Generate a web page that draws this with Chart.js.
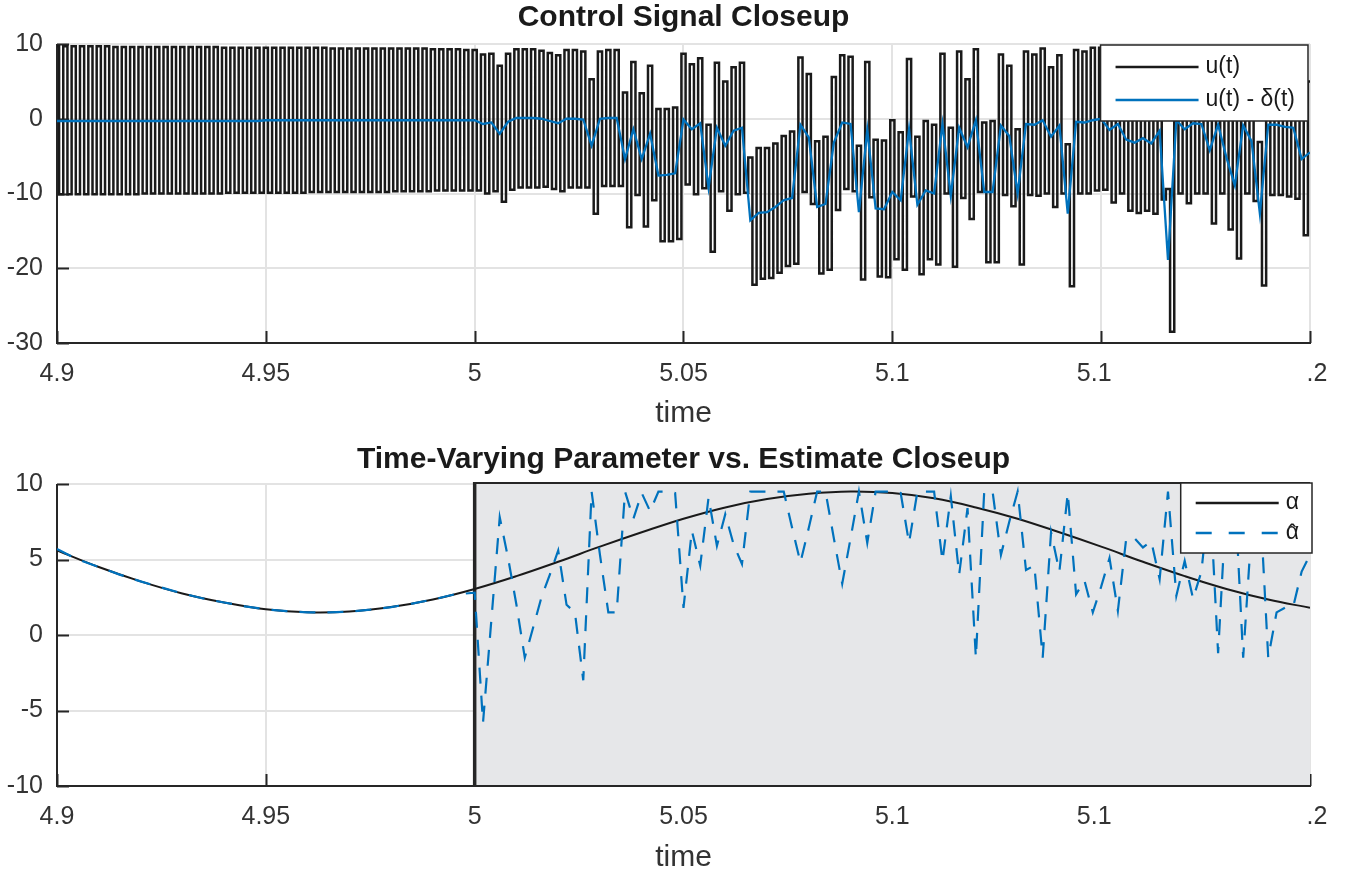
<!DOCTYPE html>
<html>
<head>
<meta charset="utf-8">
<script src="https://cdn.jsdelivr.net/npm/chart.js@4.4.1/dist/chart.umd.min.js"></script>
<style>
  body { margin: 0; background: #fff; }
  .panel { position: absolute; left: 0; width: 1348px; }
</style>
</head>
<body>
<div class="panel" style="top:0;height:440px"><canvas id="topChart" width="1348" height="440"></canvas></div>
<div class="panel" style="top:440px;height:437px"><canvas id="bottomChart" width="1348" height="437"></canvas></div>
<script>
// ---- data ----
const xTicks = [4.9, 4.95, 5, 5.05, 5.1, 5.15, 5.2];
const xTickLabels = ['4.9', '4.95', '5', '5.05', '5.1', '5.1', '.2'];
const topYTicks = [-30, -20, -10, 0, 10];
const bottomYTicks = [-10, -5, 0, 5, 10];
const topTitle = 'Control Signal Closeup';
const bottomTitle = 'Time-Varying Parameter vs. Estimate Closeup';
const xTitle = 'time';

// switching period of the control signal, one high/low pair per period
const periodStart = 4.9;
const period = 0.002;

// u(t): value during the high half of each period
const uHigh = [
  9.7, 9.7, 9.7, 9.7, 9.7, 9.7, 9.7, 9.6, 9.6, 9.6,
  9.6, 9.6, 9.6, 9.6, 9.6, 9.6, 9.6, 9.6, 9.6, 9.6,
  9.5, 9.5, 9.5, 9.5, 9.5, 9.5, 9.5, 9.5, 9.5, 9.5,
  9.5, 9.5, 9.5, 9.4, 9.4, 9.4, 9.4, 9.4, 9.4, 9.4,
  9.4, 9.4, 9.4, 9.4, 9.4, 9.3, 9.3, 9.3, 9.3, 9.2,
  9.2, 8.6, 8.7, 7.1, 8.7, 9.3, 9.3, 9.3, 9.1, 8.8,
  8.5, 9.2, 9.2, 9.0, 5.3, 9.0, 9.2, 9.2, 3.5, 7.6,
  3.4, 7.1, 1.3, 1.3, 1.5, 8.7, 7.3, 8.1, -0.8, 7.5,
  5.0, 6.9, 7.5, -5.2, -3.9, -3.9, -3.3, -2.3, -1.7, 8.2,
  6.0, -3.0, -2.4, 5.6, 8.5, 8.3, -3.6, 7.6, -2.8, -2.9,
  -0.2, -1.8, 8.0, -2.4, -0.3, -0.8, 8.7, -1.2, 9.0, 5.3,
  9.3, -0.5, -0.3, 8.6, 7.1, -1.4, 9.0, 8.6, 9.4, 6.9,
  8.5, -3.4, 9.2, 9.0, 9.5, 9.5, 8.2, 8.6, 6.7, 6.2,
  7.1, 6.1, 7.6, -9.4, 9.5, 8.5, 8.8, 8.6, 5.6, 8.4,
  4.4, 0.9, 8.2, 5.0, -3.1, 8.6, 8.6, 8.2, 8.3, 4.8,
  5.0
];
// u(t): value during the low half of each period
const uLow = [
  -10.1, -10.1, -10.1, -10.1, -10.1, -10.1, -10.1, -10.1, -10.1, -10.1,
  -10.0, -10.0, -10.0, -10.0, -10.0, -10.0, -10.0, -10.0, -10.0, -10.0,
  -9.9, -9.9, -9.9, -9.9, -9.9, -9.9, -9.9, -9.9, -9.9, -9.9,
  -9.8, -9.8, -9.8, -9.8, -9.8, -9.8, -9.8, -9.8, -9.8, -9.8,
  -9.7, -9.7, -9.7, -9.7, -9.7, -9.6, -9.6, -9.6, -9.6, -9.6,
  -9.6, -10.0, -9.7, -11.1, -9.5, -9.2, -9.2, -9.2, -9.1, -9.4,
  -9.7, -9.2, -9.2, -9.2, -12.7, -9.0, -9.0, -9.0, -14.5, -10.2,
  -14.4, -10.9, -16.4, -16.4, -16.1, -8.8, -10.1, -9.3, -17.8, -9.7,
  -12.3, -10.1, -9.9, -22.2, -21.4, -21.3, -20.6, -19.7, -19.4, -9.8,
  -11.4, -20.7, -20.2, -12.2, -9.4, -9.7, -21.5, -10.5, -21.1, -21.2,
  -18.8, -20.2, -10.4, -20.8, -18.8, -19.5, -10.0, -19.8, -10.6, -13.4,
  -9.8, -19.2, -19.2, -10.2, -11.7, -19.5, -10.2, -10.3, -10.0, -11.8,
  -10.0, -22.4, -10.0, -10.0, -9.6, -9.5, -11.2, -10.0, -12.3, -12.6,
  -12.3, -12.7, -10.8, -28.5, -10.0, -11.3, -10.0, -10.0, -14.0, -10.0,
  -14.8, -18.7, -10.0, -11.0, -22.3, -10.2, -10.2, -10.4, -10.7, -15.6,
  -14.0
];
// u(t) - delta(t), one sample per period
const uMinusDelta = [
  -0.3, -0.3, -0.3, -0.3, -0.3, -0.3, -0.3, -0.3, -0.3, -0.3,
  -0.3, -0.3, -0.3, -0.3, -0.3, -0.3, -0.3, -0.3, -0.3, -0.3,
  -0.3, -0.3, -0.3, -0.3, -0.3, -0.2, -0.2, -0.2, -0.2, -0.2,
  -0.2, -0.2, -0.2, -0.2, -0.2, -0.2, -0.2, -0.2, -0.2, -0.2,
  -0.2, -0.2, -0.2, -0.2, -0.2, -0.2, -0.2, -0.2, -0.2, -0.2,
  -0.2, -0.7, -0.5, -2.0, -0.4, 0.1, 0.1, 0.1, 0.0, -0.3,
  -0.6, 0.0, 0.0, -0.1, -3.6, 0.0, 0.1, 0.1, -5.4, -1.4,
  -5.4, -2.0, -7.6, -7.5, -7.3, -0.1, -1.4, -0.6, -9.2, -1.2,
  -3.6, -1.6, -1.2, -13.6, -12.6, -12.5, -11.8, -10.9, -10.6, -0.8,
  -2.5, -11.8, -11.4, -3.2, -0.5, -0.7, -12.5, -1.5, -12.0, -12.1,
  -9.8, -10.9, -1.4, -11.5, -9.6, -10.0, -0.7, -10.3, -1.2, -3.8,
  -0.2, -9.8, -9.8, -0.9, -2.3, -10.0, -0.7, -0.8, -0.2, -2.4,
  -0.9, -12.7, -0.4, -0.5, -0.2, 0.0, -1.5, -0.7, -2.8, -3.2,
  -2.6, -3.3, -1.6, -18.9, -0.2, -1.4, -0.6, -0.7, -4.2, -0.8,
  -5.2, -8.9, -0.9, -3.0, -12.7, -0.8, -0.8, -1.1, -1.2, -5.4,
  -4.5
];

// alpha (true parameter)
const alphaTimes = [4.9, 4.91, 4.92, 4.93, 4.94, 4.95, 4.96, 4.97, 4.98, 4.99,
  5.0, 5.01, 5.02, 5.03, 5.04, 5.05, 5.06, 5.07, 5.08, 5.09,
  5.1, 5.11, 5.12, 5.13, 5.14, 5.15, 5.16, 5.17, 5.18, 5.19, 5.2];
const alphaValues = [5.6, 4.5, 3.55, 2.75, 2.15, 1.7, 1.5, 1.55, 1.85, 2.35,
  3.05, 3.9, 4.85, 5.85, 6.8, 7.7, 8.45, 9.0, 9.35, 9.5,
  9.4, 9.05, 8.45, 7.7, 6.8, 5.85, 4.85, 3.9, 3.05, 2.35, 1.8];

// alpha-hat (estimate): smooth part before 5.0
const alphaHatEarlyTimes = [4.9, 4.905, 4.91, 4.915, 4.92, 4.925, 4.93, 4.935, 4.94, 4.945,
  4.95, 4.955, 4.96, 4.965, 4.97, 4.975, 4.98, 4.985, 4.99, 4.995];
const alphaHatEarly = [5.7, 5.0, 4.5, 4.0, 3.55, 3.15, 2.75, 2.42, 2.15, 1.9,
  1.7, 1.58, 1.5, 1.5, 1.55, 1.68, 1.85, 2.08, 2.35, 2.68];
// alpha-hat after 5.0, one sample per period
const alphaHatStart = 5.0;
const alphaHatLate = [
  2.8, -5.8, 1.0, 7.8, 5.1, 2.0, -1.5, 0.5, 2.5, 4.0,
  5.6, 2.0, 1.5, -3.0, 9.5, 5.3, 1.5, 1.5, 9.5, 7.7,
  9.4, 8.2, 9.5, 9.5, 9.4, 1.8, 6.9, 4.6, 9.1, 5.9,
  8.0, 6.0, 4.7, 9.5, 9.5, 9.5, 9.5, 9.5, 7.1, 4.8,
  7.1, 9.5, 9.5, 6.4, 3.4, 6.4, 9.5, 6.1, 9.5, 9.5,
  9.5, 9.4, 6.1, 9.5, 9.5, 9.5, 4.9, 9.2, 4.0, 8.4,
  -1.5, 9.5, 9.5, 5.3, 7.5, 9.5, 4.3, 4.6, -1.5, 6.8,
  4.2, 9.4, 2.7, 3.6, 1.5, 3.2, 5.1, 1.6, 6.4, 6.4,
  5.8, 6.2, 3.7, 9.5, 2.6, 4.9, 2.4, 4.2, 9.5, -1.2,
  9.0, 9.5, -1.5, 7.0, 9.0, -1.5, 1.5, 1.8, 1.9, 4.2,
  5.3
];
const estimateWindow = [5.0, 5.2];

// ---- styling ----
const FONT = "'Liberation Sans', Arial, Helvetica, sans-serif";
const GRID = '#e3e3e3';
const AXIS = '#262626';
const TICK_TEXT = '#333333';
const BLACK = '#1a1a1a';
const BLUE = '#0072bd';

// ---- build series ----
const uPoints = [];
uHigh.forEach((hi, k) => {
  const t = periodStart + k * period;
  uPoints.push({ x: t - period / 4, y: hi });
  uPoints.push({ x: t + period / 4, y: uLow[k] });
});
const uDeltaPoints = uMinusDelta.map((v, k) => ({ x: periodStart + k * period, y: v }));
const alphaPoints = alphaValues.map((v, i) => ({ x: alphaTimes[i], y: v }));
const alphaHatPoints = alphaHatEarly.map((v, i) => ({ x: alphaHatEarlyTimes[i], y: v }))
  .concat(alphaHatLate.map((v, j) => ({ x: alphaHatStart + j * period, y: v })));

// legend text, drawing a combining circumflex by hand
function drawLabel(ctx, text, x, y) {
  const hat = text.indexOf('\u0302');
  const base = text.replace('\u0302', '');
  ctx.textAlign = 'left';
  ctx.fillText(base, x, y);
  if (hat > 0) {
    const before = ctx.measureText(base.slice(0, hat - 1)).width;
    const w = ctx.measureText(base.charAt(hat - 1)).width;
    ctx.textAlign = 'center';
    ctx.fillText('\u02c6', x + before + w / 2, y + 2);
  }
  return ctx.measureText(base).width;
}

// ---- MATLAB-like axes decorations ----
const matlabAxes = {
  id: 'matlabAxes',
  beforeDatasetsDraw(chart, args, opts) {
    const { ctx, chartArea: a, scales: { x, y } } = chart;
    ctx.save();
    ctx.strokeStyle = AXIS;
    ctx.lineWidth = 2;
    ctx.beginPath();
    xTicks.forEach(v => {
      const px = Math.round(x.getPixelForValue(v)) + 0.5;
      ctx.moveTo(px, a.bottom); ctx.lineTo(px, a.bottom - 12);
    });
    y.ticks.forEach(t => {
      const py = Math.round(y.getPixelForValue(t.value)) + 0.5;
      ctx.moveTo(a.left, py); ctx.lineTo(a.left + 12, py);
    });
    ctx.stroke();

    if (opts.shade) {
      const x0 = x.getPixelForValue(opts.shade[0]);
      const x1 = x.getPixelForValue(opts.shade[1]);
      ctx.fillStyle = '#e6e7e9';
      ctx.fillRect(x0, a.top, x1 - x0, a.bottom - a.top);
      ctx.beginPath();
      ctx.lineWidth = 2;
      ctx.moveTo(x1, a.top - 1); ctx.lineTo(x0, a.top - 1);
      ctx.stroke();
      ctx.beginPath();
      ctx.lineWidth = 3.5;
      ctx.moveTo(x0, a.top - 2); ctx.lineTo(x0, a.bottom);
      ctx.stroke();
    }

    ctx.lineWidth = 2;
    ctx.beginPath();
    ctx.moveTo(a.left, a.top);
    ctx.lineTo(a.left, a.bottom);
    ctx.lineTo(a.right + 1, a.bottom);
    ctx.stroke();
    ctx.restore();
  },
  afterDraw(chart, args, opts) {
    const { ctx, chartArea: a, scales: { x } } = chart;
    ctx.save();
    // x tick labels (the reference shows the last two cut short)
    ctx.font = `25px ${FONT}`;
    ctx.fillStyle = TICK_TEXT;
    ctx.textBaseline = 'middle';
    xTicks.forEach((v, i) => {
      const px = x.getPixelForValue(v);
      const shown = xTickLabels[i];
      const full = String(+v.toFixed(2));
      const fw = ctx.measureText(full).width;
      if (shown === full) {
        ctx.textAlign = 'center';
        ctx.fillText(shown, px, a.bottom + 31);
      } else if (full.startsWith(shown)) {
        ctx.textAlign = 'left';
        ctx.fillText(shown, px - fw / 2, a.bottom + 31);
      } else {
        ctx.textAlign = 'right';
        ctx.fillText(shown, px + fw / 2, a.bottom + 31);
      }
    });
    // x axis title
    ctx.font = `30px ${FONT}`;
    ctx.textAlign = 'center';
    ctx.fillStyle = TICK_TEXT;
    ctx.fillText(xTitle, (a.left + a.right) / 2, a.bottom + opts.xTitleOffset);
    // plot title
    ctx.font = `bold 30px ${FONT}`;
    ctx.fillStyle = BLACK;
    ctx.fillText(opts.title, (a.left + a.right) / 2, a.top - opts.titleOffset);

    // legend box
    const lg = opts.legend;
    const items = chart.data.datasets;
    ctx.font = `23px ${FONT}`;
    const textW = Math.max(...items.map(d => ctx.measureText(d.label.replace('\u0302', '')).width));
    const boxW = 105 + textW + 13;
    const bx = a.right + lg.dx - boxW;
    const by = a.top + lg.dy;
    ctx.fillStyle = '#ffffff';
    ctx.fillRect(bx, by, boxW, lg.height);
    ctx.strokeStyle = AXIS;
    ctx.lineWidth = 1.5;
    ctx.strokeRect(bx, by, boxW, lg.height);
    items.forEach((d, i) => {
      const ly = by + lg.firstRow + i * lg.rowGap;
      ctx.beginPath();
      ctx.strokeStyle = d.borderColor;
      ctx.lineWidth = 2.5;
      ctx.setLineDash(d.borderDash ? [16, 17] : []);
      ctx.moveTo(bx + 15, ly);
      ctx.lineTo(bx + 98, ly);
      ctx.stroke();
      ctx.setLineDash([]);
      ctx.fillStyle = BLACK;
      drawLabel(ctx, d.label, bx + 105, ly);
    });
    ctx.restore();
  }
};

function makeOptions(yMin, yMax, yTicks, xHeight, plugOpts) {
  return {
    responsive: false,
    animation: false,
    layout: { padding: { top: 44, right: 38, left: 0, bottom: 0 } },
    elements: { point: { radius: 0 } },
    plugins: {
      legend: { display: false },
      title: { display: false },
      tooltip: { enabled: false },
      matlabAxes: plugOpts
    },
    scales: {
      x: {
        type: 'linear', min: 4.9, max: 5.2,
        afterBuildTicks: s => { s.ticks = xTicks.map(v => ({ value: v })); },
        afterFit: s => { s.height = xHeight; },
        grid: { color: GRID, lineWidth: 2, drawTicks: false },
        border: { display: false },
        ticks: { display: false }
      },
      y: {
        type: 'linear', min: yMin, max: yMax,
        afterBuildTicks: s => { s.ticks = yTicks.map(v => ({ value: v })); },
        afterFit: s => { s.width = 57; },
        grid: { color: GRID, lineWidth: 2, drawTicks: false },
        border: { display: false },
        ticks: { font: { family: FONT, size: 25 }, color: TICK_TEXT, padding: 14 }
      }
    }
  };
}

new Chart(document.getElementById('topChart'), {
  type: 'line',
  data: {
    datasets: [
      { label: 'u(t)', data: uPoints, borderColor: BLACK, borderWidth: 2.5, stepped: true, order: 2 },
      { label: 'u(t) - δ(t)', data: uDeltaPoints, borderColor: BLUE, borderWidth: 2.3, order: 1 }
    ]
  },
  options: makeOptions(-30, 10, topYTicks, 97, {
    title: topTitle, titleOffset: 26, xTitleOffset: 71,
    legend: { dx: -2, dy: 1, height: 76, firstRow: 22, rowGap: 33 }
  }),
  plugins: [matlabAxes]
});

new Chart(document.getElementById('bottomChart'), {
  type: 'line',
  data: {
    datasets: [
      { label: 'α', data: alphaPoints, borderColor: BLACK, borderWidth: 2, tension: 0.4, order: 2 },
      { label: 'α\u0302', data: alphaHatPoints, borderColor: BLUE, borderWidth: 2.2, borderDash: [16, 12], order: 1 }
    ]
  },
  options: makeOptions(-10, 10, bottomYTicks, 91, {
    title: bottomTitle, titleOffset: 24, xTitleOffset: 72, shade: estimateWindow,
    legend: { dx: 2, dy: -1, height: 70, firstRow: 20, rowGap: 30 }
  }),
  plugins: [matlabAxes]
});
</script>
</body>
</html>
